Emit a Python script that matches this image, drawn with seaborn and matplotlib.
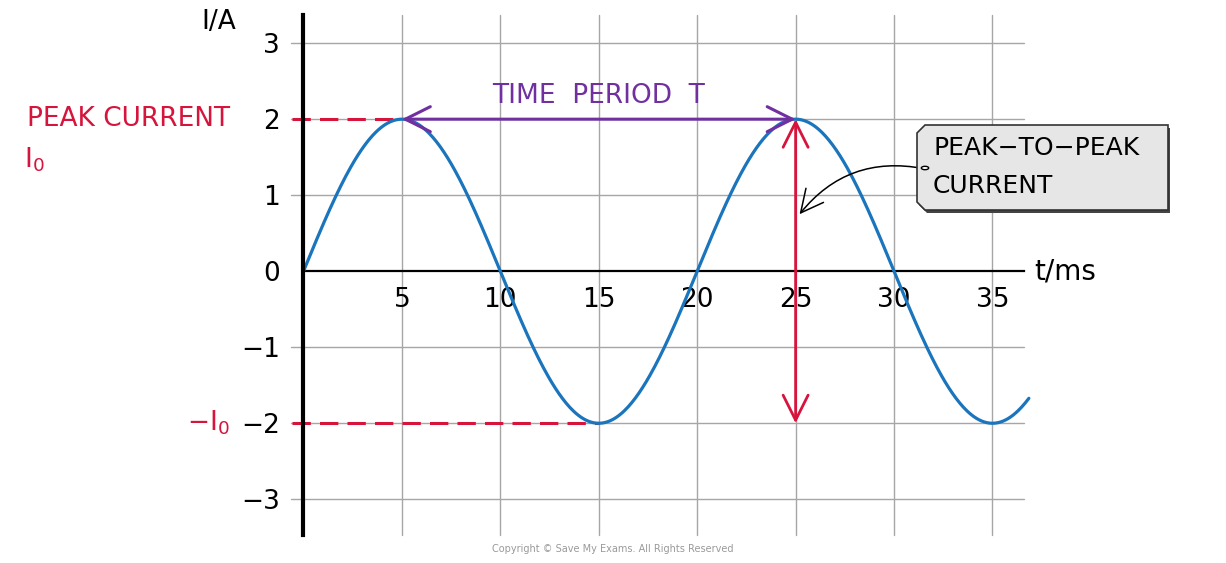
import numpy as np
import pandas as pd
import matplotlib.pyplot as plt
import seaborn as sns
from matplotlib.patches import Polygon

# values
peak_current = 2.0      # A
period_ms = 20.0        # ms
t_end = 36.85           # ms, where the drawn curve stops
x_ticks = [5, 10, 15, 20, 25, 30, 35]
y_ticks = [-3, -2, -1, 0, 1, 2, 3]
y_labels = ["\u22123", "\u22122", "\u22121", "0", "1", "2", "3"]

t = np.linspace(0, t_end, 600)
wave = pd.DataFrame({"t": t, "I": peak_current * np.sin(2 * np.pi * t / period_ms)})

sns.set_style("white")
plt.rcParams["font.family"] = ["DejaVu Sans"]
plt.rcParams["text.color"] = "black"
plt.rcParams["xtick.color"] = "black"
plt.rcParams["ytick.color"] = "black"

red = "#d6143c"
purple = "#7030a0"
blue = "#1a75bc"

fig = plt.figure(figsize=(12.26, 5.63), dpi=100)
ax = fig.add_axes([0.2371, 0.0497, 0.5981, 0.9236])
ax.set_xlim(-0.65, 36.6)
ax.set_ylim(-3.47, 3.37)

# grid
for x in x_ticks:
    ax.axvline(x, color="#a6a6a6", lw=1.0, zorder=0)
for y in y_ticks:
    if y != 0:
        ax.axhline(y, color="#a6a6a6", lw=1.0, zorder=0)

sns.lineplot(data=wave, x="t", y="I", ax=ax, color=blue, lw=2.3, zorder=4)
for line in ax.get_lines():
    line.set_clip_on(False)

# axes through origin
for s in ["top", "right"]:
    ax.spines[s].set_visible(False)
ax.spines["left"].set_position(("data", 0))
ax.spines["bottom"].set_position(("data", 0))
ax.spines["left"].set_linewidth(3)
ax.spines["bottom"].set_linewidth(1.6)
ax.spines["left"].set_color("black")
ax.spines["bottom"].set_color("black")
ax.spines["bottom"].set_bounds(0, 36.6)
ax.spines["left"].set_zorder(5)
ax.set_xticks(x_ticks)
ax.set_xticklabels([str(x) for x in x_ticks])
ax.set_yticks(y_ticks)
ax.set_yticklabels(y_labels)
ax.tick_params(axis="x", length=0, pad=11, labelsize=19)
ax.tick_params(axis="y", length=0, pad=17, labelsize=19)
ax.set_xlabel("")
ax.set_ylabel("")

fig.text(219 / 1226, 1 - 22 / 563, "I/A", fontsize=19, ha="center", va="center")
ax.text(37.1, 0.0, "t/ms", fontsize=20, ha="left", va="center")

# peak current markers
ax.plot([-0.6, 5], [2, 2], color=red, lw=2.2, ls=(0, (6, 3)), zorder=3)
ax.plot([-0.6, 15], [-2, -2], color=red, lw=2.2, ls=(0, (6, 3)), zorder=3)
fig.text(27 / 1226, 1 - 119 / 563, "PEAK CURRENT", color=red, fontsize=19, ha="left", va="center")
fig.text(24 / 1226, 1 - 160 / 563, "I$_0$", color=red, fontsize=19, ha="left", va="center")
fig.text(230 / 1226, 1 - 423 / 563, "\u2212I$_0$", color=red, fontsize=19, ha="right", va="center")

# time period arrow
ax.annotate("", xy=(5, 2), xytext=(25, 2),
            arrowprops=dict(arrowstyle="<->,head_length=1.0,head_width=0.5",
                            color=purple, lw=2.2, mutation_scale=18, shrinkA=0, shrinkB=0),
            zorder=6)
ax.text(15, 2.30, "TIME  PERIOD  T", color=purple, fontsize=19, ha="center", va="center")

# peak-to-peak arrow
ax.annotate("", xy=(25, 2), xytext=(25, -2),
            arrowprops=dict(arrowstyle="<->,head_length=1.0,head_width=0.5",
                            color=red, lw=2.0, mutation_scale=18, shrinkA=0, shrinkB=0),
            zorder=6)

# label box with chamfered left corners
def fx(px):
    return px / 1226

def fy(py):
    return 1 - py / 563

box = [(925, 125), (1168, 125), (1168, 210), (925, 210), (917, 202), (917, 133)]
shadow = Polygon([(fx(x + 2), fy(y + 3)) for x, y in box], closed=True,
                 transform=fig.transFigure, facecolor="#444444", edgecolor="none", zorder=7)
panel = Polygon([(fx(x), fy(y)) for x, y in box], closed=True,
                transform=fig.transFigure, facecolor="#e6e6e6", edgecolor="#333333", lw=1.2, zorder=8)
fig.add_artist(shadow)
fig.add_artist(panel)
fig.text(fx(933), fy(148), "PEAK\u2212TO\u2212PEAK", fontsize=18, ha="left", va="center", zorder=9)
fig.text(fx(933), fy(186), "CURRENT", fontsize=18, ha="left", va="center", zorder=9)

# curved pointer from the box to the red arrow
ax.annotate("", xy=(25.2, 0.75), xytext=(31.5, 1.35),
            arrowprops=dict(arrowstyle="->,head_length=0.9,head_width=0.45", color="black",
                            lw=1.1, mutation_scale=18, connectionstyle="arc3,rad=0.3",
                            shrinkA=0, shrinkB=0),
            annotation_clip=False, zorder=9)
fig.add_artist(plt.Circle((fx(925), fy(168)), 0.003, transform=fig.transFigure,
                          facecolor="white", edgecolor="black", lw=1, zorder=10))

fig.text(0.5, 1 - 549 / 563, "Copyright \u00a9 Save My Exams. All Rights Reserved",
         color="#9a9a9a", fontsize=7, ha="center", va="center")

fig.savefig("out.png", dpi=100)
